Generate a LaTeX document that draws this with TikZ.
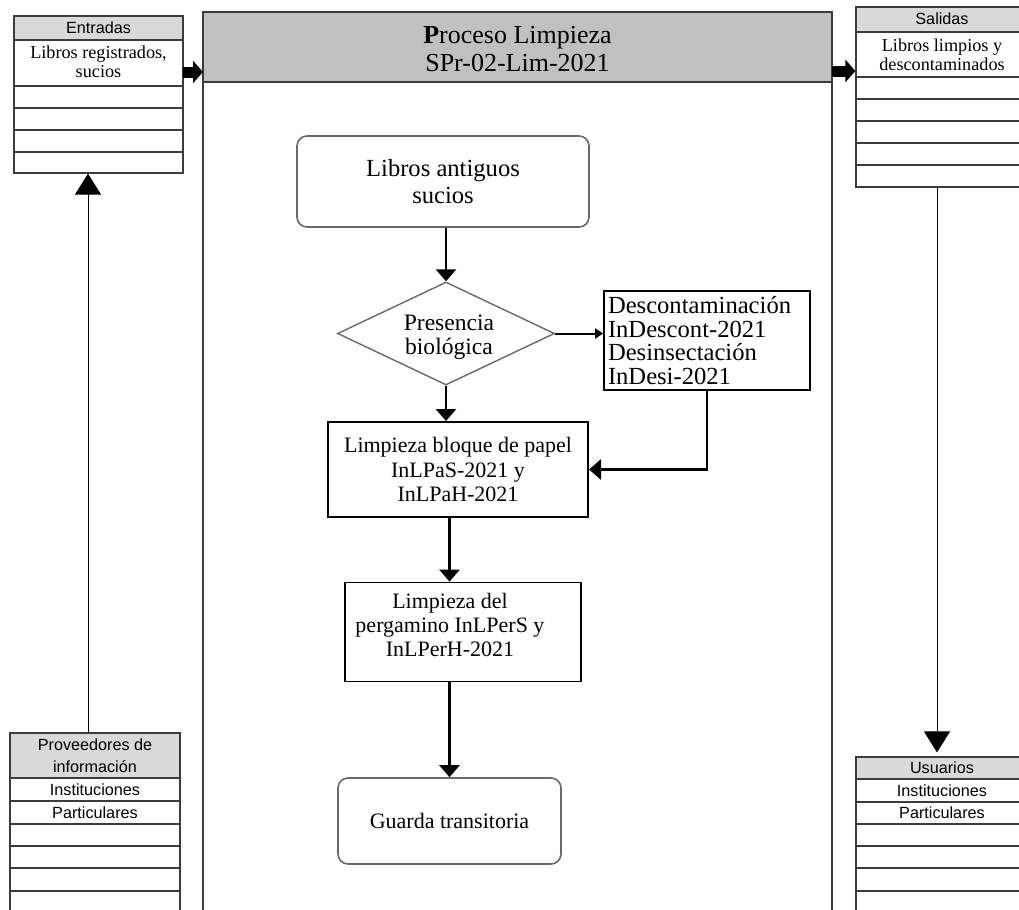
\documentclass[tikz,border=0pt]{standalone}
\usepackage{fontspec}
\setmainfont{Liberation Serif}
\setsansfont{Liberation Sans}
\usetikzlibrary{arrows.meta,shapes.geometric}
\definecolor{colHDR}{RGB}{217,217,217}
\definecolor{colPROC}{RGB}{192,192,192}
\definecolor{colLINE}{RGB}{60,60,60}
\definecolor{colEDGE}{RGB}{105,105,105}

\begin{document}
\begin{tikzpicture}[x=0.5pt, y=-0.5pt,
    every node/.style={font=\fontsize{11}{12.2}\selectfont, inner sep=0pt},
    tblhead/.style={font=\sffamily\fontsize{8.1}{11}\selectfont, align=center},
    tblcell/.style={font=\fontsize{9.1}{9.5}\selectfont, align=center},
    tblframe/.style={draw=colLINE, line width=0.6pt},
    rbox/.style={draw=colEDGE, line width=0.8pt, rounded corners=5pt, align=center},
    pbox/.style={draw, line width=0.9pt, align=center},
    flow/.style={line width=1.4pt, -{Triangle[length=6pt,width=10pt]}},
    fat/.style={line width=5.5pt, -{Triangle[length=5pt,width=11pt]}},
    thin/.style={line width=0.5pt, -{Triangle[length=10.5pt,width=13pt]}}]

  \useasboundingbox (0,0) rectangle (1019,910);

  % Entradas
  \fill[colHDR] (14,16) rectangle (183,40);
  \node[tblframe, minimum width=84.5pt, minimum height=78.5pt] (ent) at (98.5,94.5) {};
  \foreach \y in {40,86,108,130,152}
    \draw[colLINE, line width=0.6pt] (14,\y) -- (183,\y);
  \node[tblhead] (entT) at (98.5,28) {Entradas};
  \node[tblcell] (entA) at (98.5,62) {Libros registrados,\\ sucios};

  % Proceso (cabecera y marco)
  \fill[colPROC] (203,12) rectangle (832,82);
  \draw[colLINE, line width=0.6pt] (203,915) -- (203,12) -- (832,12) -- (832,915);
  \draw[colLINE, line width=0.6pt] (203,82) -- (832,82);
  \node[font=\fontsize{13}{14}\selectfont, align=center] (proc) at (517.5,49)
    {\textbf{P}roceso Limpieza\\SPr-02-Lim-2021};

  % Salidas
  \fill[colHDR] (856,7) rectangle (1028,32);
  \node[tblframe, minimum width=86pt, minimum height=90pt] (sal) at (942,97) {};
  \foreach \y in {32,77,99,121,143,165}
    \draw[colLINE, line width=0.6pt] (856,\y) -- (1028,\y);
  \node[tblhead] (salT) at (942,19) {Salidas};
  \node[tblcell] (salA) at (942,55) {Libros limpios y\\descontaminados};

  % Usuarios
  \fill[colHDR] (856,757) rectangle (1028,779);
  \node[tblframe, minimum width=86pt, minimum height=81.5pt] (usu) at (942,838.5) {};
  \foreach \y in {779,802,824,846,868,891}
    \draw[colLINE, line width=0.6pt] (856,\y) -- (1028,\y);
  \node[tblhead] (usuT) at (942,768) {Usuarios};
  \node[tblhead] (usuA) at (942,790.5) {Instituciones};
  \node[tblhead] (usuB) at (942,813) {Particulares};

  % Proveedores
  \fill[colHDR] (10,733) rectangle (180,778);
  \node[tblframe, minimum width=85pt, minimum height=93.5pt] (prov) at (95,826.5) {};
  \foreach \y in {778,801,824,846,868,891}
    \draw[colLINE, line width=0.6pt] (10,\y) -- (180,\y);
  \node[tblhead] (provT) at (95,756) {Proveedores de\\información};
  \node[tblhead] (provA) at (95,789.5) {Instituciones};
  \node[tblhead] (provB) at (95,812.5) {Particulares};

  % flechas gruesas entrada / salida
  \coordinate (inA) at (183,72);
  \coordinate (outA) at (832,71);
  \draw[fat] (inA) -- (inA -| 203,0);
  \draw[fat] (outA) -- (outA -| sal.west);
  \draw[thin] ([xshift=-3.5pt]prov.north) -- ([xshift=-3.5pt]prov.north |- ent.south);
  \draw[thin, shorten >=2pt] ([xshift=-2.5pt]sal.south) -- ([xshift=-2.5pt]sal.south |- usu.north);

  % Diagrama de flujo
  \node[rbox, minimum width=146pt, minimum height=45.5pt, font=\fontsize{12.3}{13.5}\selectfont]
    (lib) at (443,181.5) {Libros antiguos\\sucios};
  \node[diamond, draw=colEDGE, line width=0.7pt, aspect=2.1,
    minimum width=108.5pt, minimum height=51.5pt] (pres) at (446,333.5) {};
  \node[align=center, font=\fontsize{11.8}{11.8}\selectfont] (presT) at (449,337) {Presencia\\biológica};
  \node[pbox, minimum width=103pt, minimum height=49.5pt, text width=99pt, align=left,
    font=\fontsize{12.3}{11.9}\selectfont] (desc) at (707,340.5)
    {Descontaminación\\InDescont-2021\\Desinsectación\\InDesi-2021};
  \node[pbox, line width=1pt, minimum width=130pt, minimum height=47.5pt]
    (lbp) at (458,469.5) {Limpieza bloque de papel\\InLPaS-2021 y\\InLPaH-2021};
  \node[pbox, minimum width=118pt, minimum height=49.5pt] (perg) at (463,632) {};
  \node[align=center] (pergT) at (450,625) {Limpieza del\\pergamino InLPerS y\\InLPerH-2021};
  \node[rbox, minimum width=111.5pt, minimum height=43pt]
    (gua) at (449.5,821) {Guarda transitoria};

  \draw[flow] (pres.north |- lib.south) -- (pres.north);
  \draw[line width=1pt, -{Triangle[length=4pt,width=5pt]}] (pres.east) -- (pres.east -| desc.west);
  \draw[flow] (pres.south) -- (pres.south |- lbp.north);
  \draw[flow] (desc.south) |- (lbp.east);
  \draw[flow] (gua.north |- lbp.south) -- (gua.north |- perg.north);
  \draw[flow] (gua.north |- perg.south) -- (gua.north);
\end{tikzpicture}
\end{document}
